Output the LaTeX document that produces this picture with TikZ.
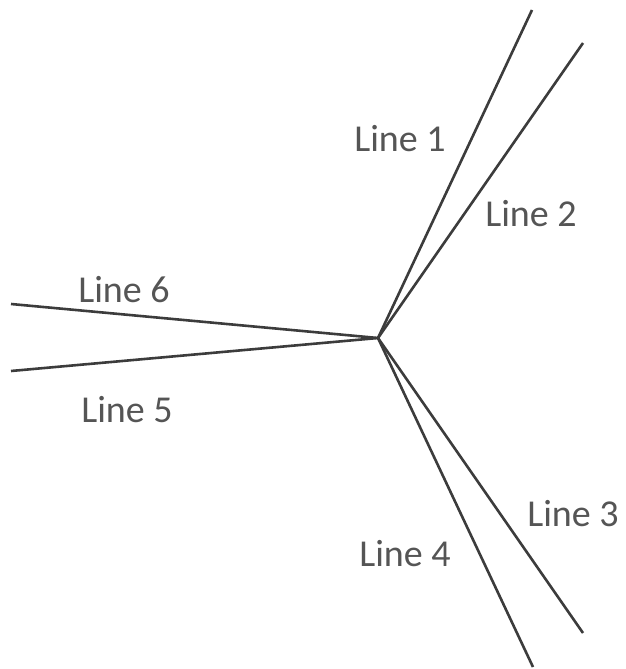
\documentclass[tikz,border=0pt]{standalone}
\usepackage{fontspec}
\setmainfont{Carlito}
\begin{document}
\begin{tikzpicture}[x=1pt,y=-1pt,
  ray/.style={draw={rgb,255:red,60;green,60;blue,60},line width=2.6pt},
  lbl/.style={text={rgb,255:red,85;green,85;blue,85},font=\fontsize{38}{46}\selectfont,inner sep=0pt}]
\useasboundingbox (0,0) rectangle (625,669);
\coordinate (c) at (378,338);
\coordinate (e1) at (532,10);
\coordinate (e2) at (583,43);
\coordinate (e3) at (583,633);
\coordinate (e4) at (533,667);
\coordinate (e5) at (11,371);
\coordinate (e6) at (11,304);
\foreach \i in {1,...,6} {\draw[ray] (c) -- (e\i);}
\node[lbl] (l1) at (400,139) {Line 1};
\node[lbl] (l2) at (531,214) {Line 2};
\node[lbl] (l3) at (573,514) {Line 3};
\node[lbl] (l4) at (405,554) {Line 4};
\node[lbl] (l5) at (127,410) {Line 5};
\node[lbl] (l6) at (124,290) {Line 6};
\end{tikzpicture}
\end{document}
